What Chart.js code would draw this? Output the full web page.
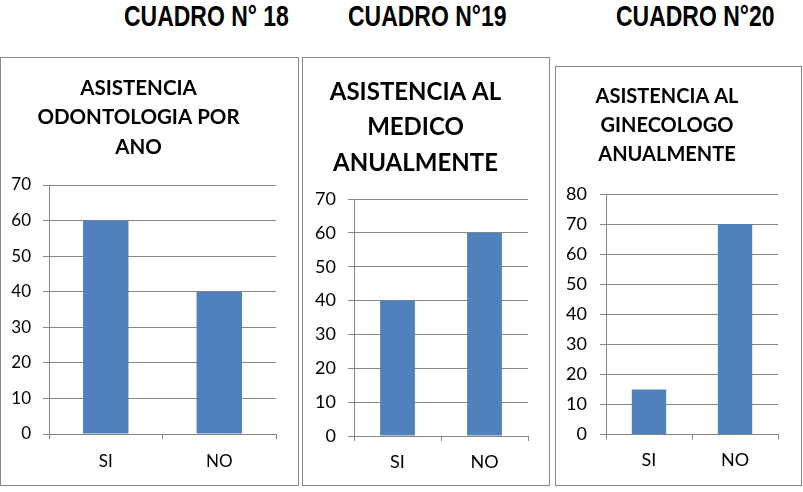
<!DOCTYPE html>
<html>
<head>
<meta charset="utf-8">
<script src="https://cdn.jsdelivr.net/npm/chart.js@4"></script>
<style>
  body { margin: 0; width: 803px; height: 492px; position: relative; background: #fff; overflow: hidden; }
  .hdr { position: absolute; top: 1px; font: bold 28px "Liberation Sans", sans-serif; line-height: 28px; white-space: nowrap; color: #000;
         transform: scale(0.82, 1.08); transform-origin: 0 0; }
  .box { position: absolute; border: 1px solid #8a8a8a; background: #fff; }
  .box canvas { position: absolute; left: 0; top: 0; }
</style>
</head>
<body>
<div class="hdr" style="left:124px">CUADRO N° 18</div>
<div class="hdr" style="left:348px">CUADRO N°19</div>
<div class="hdr" style="left:616px">CUADRO N°20</div>

<div class="box" style="left:0;top:57px;width:297px;height:427px"><canvas id="c1" width="297" height="427"></canvas></div>
<div class="box" style="left:302px;top:57px;width:246px;height:427px"><canvas id="c2" width="246" height="427"></canvas></div>
<div class="box" style="left:555px;top:66px;width:245px;height:418px"><canvas id="c3" width="245" height="418"></canvas></div>

<script>
// data
const categories = ["SI", "NO"];
const odontologia = [60, 40];
const medico = [40, 60];
const ginecologo = [15, 70];

const title1 = ["ASISTENCIA", "ODONTOLOGIA POR", "ANO"];
const title2 = ["ASISTENCIA AL", "MEDICO", "ANUALMENTE"];
const title3 = ["ASISTENCIA AL", "GINECOLOGO", "ANUALMENTE"];

const yMax1 = 70, yMax2 = 70, yMax3 = 80;

const BLUE = "#4f81bd";
const GRID = "#868686";

// lay = plot box inside the canvas + fonts
const makeChart = (id, title, values, yMax, lay) => {
  const lines = title.length;
  const padTop = lay.firstLine - lay.lineH / 2;
  const padBottom = lay.plotTop - padTop - lines * lay.lineH;

  new Chart(document.getElementById(id), {
    type: "bar",
    data: {
      labels: categories,
      datasets: [{ data: values, backgroundColor: BLUE, barPercentage: 0.4, categoryPercentage: 1 }]
    },
    options: {
      responsive: false,
      animation: false,
      layout: { padding: { left: 0, right: lay.padRight, top: 0, bottom: 0 } },
      plugins: {
        legend: { display: false },
        tooltip: { enabled: false },
        title: {
          display: true,
          text: title,
          color: "#000",
          font: { family: "Lato", weight: "bold", size: lay.titleSize, lineHeight: lay.lineH / lay.titleSize },
          padding: { top: padTop, bottom: padBottom }
        }
      },
      scales: {
        x: {
          afterFit: (s) => { s.height = lay.xH; },
          grid: { offset: true, drawOnChartArea: false, drawTicks: true, tickLength: 5, color: GRID },
          border: { display: true, color: GRID },
          ticks: { color: "#000", font: { family: "Lato", size: lay.tickSize }, padding: lay.xPad }
        },
        y: {
          min: 0, max: yMax,
          afterFit: (s) => { s.width = lay.plotLeft; },
          grid: { color: GRID, tickLength: 6 },
          border: { display: true, color: GRID },
          ticks: { stepSize: 10, color: "#000", font: { family: "Lato", size: lay.tickSize }, padding: lay.yPad }
        }
      }
    }
  });
};

makeChart("c1", title1, odontologia, yMax1,
  { plotLeft: 48, padRight: 22, plotTop: 127, xH: 51, firstLine: 30, lineH: 29.5, titleSize: 20.5, tickSize: 17, yPad: 12, xPad: 12 });
makeChart("c2", title2, medico, yMax2,
  { plotLeft: 51, padRight: 21, plotTop: 141, xH: 49, firstLine: 34, lineH: 35.5, titleSize: 24, tickSize: 18, yPad: 12, xPad: 10 });
makeChart("c3", title3, ginecologo, yMax3,
  { plotLeft: 50, padRight: 23, plotTop: 127, xH: 50.5, firstLine: 30, lineH: 29, titleSize: 20, tickSize: 18, yPad: 13, xPad: 10 });
</script>
</body>
</html>
